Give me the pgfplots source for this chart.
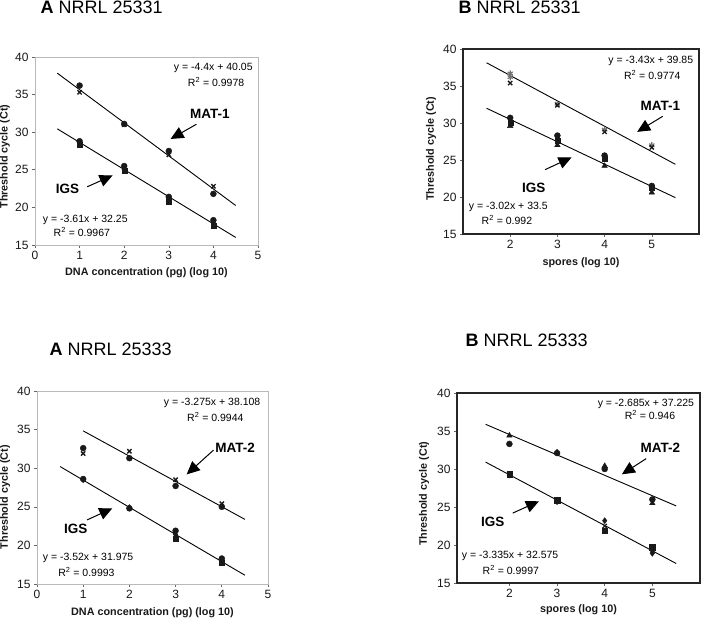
\documentclass[border=0pt]{standalone}
\usepackage{fontspec}
\setmainfont{Liberation Sans}
\usepackage{pgfplots}
\pgfplotsset{compat=1.18}
\usetikzlibrary{arrows.meta}

\newcommand{\eqf}{\fontsize{10.5}{12}\selectfont}
\newcommand{\tkf}{\fontsize{12}{14}\selectfont}
\newcommand{\lbf}{\fontsize{13.5}{15}\selectfont\bfseries}
\newcommand{\ttf}{\fontsize{18}{20}\selectfont}

\tikzset{arr/.style={black, line width=1pt, -{Triangle[length=13pt,width=12pt]}}}
\pgfplotsset{
  base/.style={scale only axis, anchor=south west, clip=false,
    ymin=15, ymax=40, ytick={15,20,...,40},
    ylabel={Threshold cycle (Ct)},
    tick align=outside, major tick length=3pt,
    tick style={black!60, line width=0.6pt},
    ticklabel style={font=\tkf, text=black!90},
    /pgf/number format/assume math mode=true,
    label style={font=\fontsize{10.8}{12}\selectfont\bfseries, text=black!90},
    xtick pos=bottom, ytick pos=left},
  panelA/.style={base, axis line style={gray!55, line width=0.7pt},
    xmin=0, xmax=5, xtick={0,...,5}, xlabel={DNA concentration (pg) (log 10)}},
  panelB/.style={base, axis line style={black!85, line width=1.1pt},
    xtick={2,3,4,5}, xlabel={spores (log 10)}},
  fitl/.style={black, line width=0.9pt, no marks},
  pts/.style={only marks, black!90, mark size=3pt},
}

\begin{document}
\begin{tikzpicture}
\path[use as bounding box] (0,0) rectangle (702pt,619pt);

% ---------- Top A ----------
\node[anchor=west, font=\ttf] at (37pt,611.5pt) {\textbf{A} NRRL 25331};
\begin{axis}[panelA, at={(35pt,374pt)}, width=223pt, height=188pt,
  ylabel style={at={(axis description cs:-0.135,0.47)}, anchor=center},
  xlabel style={at={(axis description cs:0.5,0)}, anchor=center, yshift=-28pt}]
\addplot[fitl] coordinates {(0.5,37.85) (4.5,20.25)};
\addplot[fitl] coordinates {(0.5,30.445) (4.5,16.005)};
\addplot[pts, mark=*] coordinates {(1,36.2) (2,31.1) (3,27.5) (4,21.8)};
\addplot[pts, mark=x, mark options={line width=1.4pt}] coordinates {(1,35.3) (2,31.0) (3,27.0) (4,22.8)};
\addplot[pts, mark=*] coordinates {(1,28.8) (2,25.5) (3,21.4) (4,18.3)};
\addplot[pts, mark=diamond*] coordinates {(1,28.6) (2,25.0) (3,21.2) (4,17.9)};
\addplot[pts, mark=square*, mark size=2.5pt] coordinates {(1,28.3) (2,24.9) (3,20.8) (4,17.6)};
\node[anchor=east, font=\eqf] at (axis cs:4.96,38.5) {y = -4.4x + 40.05};
\node[font=\eqf] at (axis cs:4.06,36.7) {R\textsuperscript{2} = 0.9978};
\node[anchor=west, font=\eqf] at (axis cs:0.1,18.3) {y = -3.61x + 32.25};
\node[font=\eqf] at (axis cs:1.05,16.7) {R\textsuperscript{2} = 0.9967};
\node[font=\lbf] at (axis cs:3.92,32.5) {MAT-1};
\draw[arr] (axis cs:3.62,31.06) -- (axis cs:3.04,29.1);
\node[font=\lbf] at (axis cs:0.73,22.5) {IGS};
\draw[arr] (axis cs:1.17,22.74) -- (axis cs:1.74,24.25);
\end{axis}

% ---------- Top B ----------
\node[anchor=west, font=\ttf] at (455pt,611.5pt) {\textbf{B} NRRL 25331};
\begin{axis}[panelB, at={(463pt,385pt)}, width=236pt, height=185pt, xmin=1, xmax=6,
  ylabel style={at={(axis description cs:-0.135,0.46)}, anchor=center},
  xlabel style={at={(axis description cs:0.5,0)}, anchor=center, yshift=-29pt}]
\addplot[fitl] coordinates {(1.5,38.135) (5.5,24.415)};
\addplot[fitl] coordinates {(1.5,31.99) (5.5,19.91)};
\addplot[pts, mark=asterisk, mark options={line width=1.2pt}, black!55] coordinates {(2,36.7) (2,36.2) (3,32.6) (4,29.1) (5,27.0)};
\addplot[pts, mark=x, mark options={line width=1.3pt}] coordinates {(2,35.4) (3,32.4) (4,28.8) (5,26.7)};
\addplot[pts, mark=*] coordinates {(2,30.7) (3,28.3) (4,25.6) (5,21.5)};
\addplot[pts, mark=square*, mark size=2.5pt] coordinates {(2,30.1) (3,27.6) (4,25.2) (5,21.2)};
\addplot[pts, mark=triangle*, mark size=3.2pt] coordinates {(2,29.6) (3,27.0) (4,24.2) (5,20.6)};
\node[anchor=east, font=\eqf] at (axis cs:5.95,38.4) {y = -3.43x + 39.85};
\node[font=\eqf] at (axis cs:5.01,36.5) {R\textsuperscript{2} = 0.9774};
\node[anchor=west, font=\eqf] at (axis cs:1.05,18.65) {y = -3.02x + 33.5};
\node[font=\eqf] at (axis cs:1.93,16.85) {R\textsuperscript{2} = 0.992};
\node[font=\lbf] at (axis cs:5.18,32.3) {MAT-1};
\draw[arr] (axis cs:5.23,30.9) -- (axis cs:4.69,28.8);
\node[font=\lbf] at (axis cs:2.5,21.2) {IGS};
\draw[arr] (axis cs:2.74,23.7) -- (axis cs:3.3,25.35);
\end{axis}

% ---------- Bottom A ----------
\node[anchor=west, font=\ttf] at (46pt,270pt) {\textbf{A} NRRL 25333};
\begin{axis}[panelA, at={(37pt,35pt)}, width=231pt, height=193pt,
  ylabel style={at={(axis description cs:-0.138,0.45)}, anchor=center},
  xlabel style={at={(axis description cs:0.5,0)}, anchor=center, yshift=-29pt}]
\addplot[fitl] coordinates {(1,34.833) (4.5,23.37)};
\addplot[fitl] coordinates {(0.5,30.215) (4.5,16.135)};
\addplot[pts, mark=*] coordinates {(1,32.6) (2,31.3) (3,27.7) (4,25.0)};
\addplot[pts, mark=x, mark options={line width=1.4pt}] coordinates {(1,31.9) (2,32.2) (3,28.5) (4,25.4)};
\addplot[pts, mark=*] coordinates {(1,28.6) (2,24.8) (3,21.9) (4,18.3)};
\addplot[pts, mark=diamond*] coordinates {(1,28.5) (2,24.9) (3,21.4) (4,17.9)};
\addplot[pts, mark=square*, mark size=2.5pt] coordinates {(3,20.9) (4,17.8)};
\node[anchor=east, font=\eqf] at (axis cs:4.91,38.45) {y = -3.275x + 38.108};
\node[font=\eqf] at (axis cs:3.86,36.65) {R\textsuperscript{2} = 0.9944};
\node[anchor=west, font=\eqf] at (axis cs:0.05,18.4) {y = -3.52x + 31.975};
\node[font=\eqf] at (axis cs:1.07,16.55) {R\textsuperscript{2} = 0.9993};
\node[font=\lbf] at (axis cs:4.29,32.64) {MAT-2};
\draw[arr] (axis cs:3.82,32.34) -- (axis cs:3.24,29.2);
\node[font=\lbf] at (axis cs:0.84,22.1) {IGS};
\draw[arr] (axis cs:1.085,23.3) -- (axis cs:1.63,24.8);
\end{axis}

% ---------- Bottom B ----------
\node[anchor=west, font=\ttf] at (462pt,279pt) {\textbf{B} NRRL 25333};
\begin{axis}[panelB, at={(457pt,36pt)}, width=243pt, height=190pt, xmin=0.9, xmax=6,
  ylabel style={at={(axis description cs:-0.135,0.47)}, anchor=center},
  xlabel style={at={(axis description cs:0.5,0)}, anchor=center, yshift=-27pt}]
\addplot[fitl] coordinates {(1.5,35.8825) (5.5,25.1425)};
\addplot[fitl] coordinates {(1.5,30.9075) (5.5,17.5675)};
\addplot[pts, mark=*] coordinates {(2,33.3) (3,32.1) (4,30.0) (5,26.0)};
\addplot[pts, mark=triangle*, mark size=3.2pt] coordinates {(2,34.4) (3,32.2) (4,30.4) (5,25.5)};
\addplot[pts, mark=square*, mark size=2.7pt] coordinates {(2,29.3) (3,25.9) (4,21.9) (5,19.7)};
\addplot[pts, mark=diamond*] coordinates {(2,29.2) (3,25.7) (4,23.2) (5,18.9)};
\addplot[pts, mark=x, mark options={line width=1.3pt}] coordinates {(2,29.4) (3,25.9) (4,22.5) (5,19.3)};
\node[anchor=east, font=\eqf] at (axis cs:5.95,38.55) {y = -2.685x + 37.225};
\node[font=\eqf] at (axis cs:4.95,37.1) {R\textsuperscript{2} = 0.946};
\node[anchor=west, font=\eqf] at (axis cs:0.93,18.5) {y = -3.335x + 32.575};
\node[font=\eqf] at (axis cs:2.03,16.75) {R\textsuperscript{2} = 0.9997};
\node[font=\lbf] at (axis cs:5.17,32.76) {MAT-2};
\draw[arr] (axis cs:4.87,31.36) -- (axis cs:4.36,29.3);
\node[font=\lbf] at (axis cs:1.65,23.0) {IGS};
\draw[arr] (axis cs:2.07,24.2) -- (axis cs:2.62,25.75);
\end{axis}
\end{tikzpicture}
\end{document}
